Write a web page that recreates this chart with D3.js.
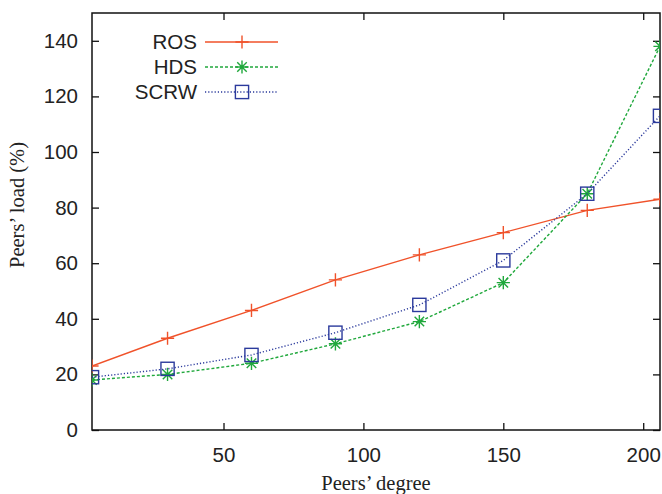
<!DOCTYPE html>
<html>
<head>
<meta charset="utf-8">
<script src="https://cdn.jsdelivr.net/npm/d3@7"></script>
<style>
  html, body { margin: 0; padding: 0; background: #fff; }
  svg { display: block; }
</style>
</head>
<body>
<svg id="chart" width="662" height="494"></svg>
<script>
// Peer degree values sampled on the x axis
const degrees = [3, 30, 60, 90, 120, 150, 180, 206];
// Load (%) for each scheme
const rosLoad  = [23, 33, 43, 54, 63, 71, 79, 83];
const hdsLoad  = [18, 20, 24, 31, 39, 53, 85, 138];
const scrwLoad = [19, 22, 27, 35, 45, 61, 85, 113];
const xTicks = [50, 100, 150, 200];
const yTicks = [0, 20, 40, 60, 80, 100, 120, 140];

const series = [
  { name: "ROS",  values: rosLoad,  color: "#f0522a", dash: null,  marker: "plus" },
  { name: "HDS",  values: hdsLoad,  color: "#20a83c", dash: "3,2", marker: "star" },
  { name: "SCRW", values: scrwLoad, color: "#2b3a9c", dash: "1.2,2", marker: "square" }
];

const svg = d3.select("#chart");
const plotL = 92, plotR = 660, plotT = 13, plotB = 430;

const x = d3.scaleLinear().domain([3, 206]).range([plotL, plotR]);
const y = d3.scaleLinear().domain([0, 150]).range([plotB, plotT]);

const tickFont = "'Liberation Sans', Arial, sans-serif";
const titleFont = "'Liberation Serif', 'Times New Roman', serif";

// Axes with ticks mirrored on the opposite sides
const gx = svg.append("g").attr("transform", `translate(0,${plotB})`)
  .call(d3.axisBottom(x).tickValues(xTicks).tickSize(-7).tickPadding(17));
const gxTop = svg.append("g").attr("transform", `translate(0,${plotT})`)
  .call(d3.axisTop(x).tickValues(xTicks).tickSize(-7).tickFormat(""));
const gy = svg.append("g").attr("transform", `translate(${plotL},0)`)
  .call(d3.axisLeft(y).tickValues(yTicks).tickSize(-7).tickPadding(14));
const gyRight = svg.append("g").attr("transform", `translate(${plotR},0)`)
  .call(d3.axisRight(y).tickValues(yTicks).tickSize(-7).tickFormat(""));

[gx, gxTop, gy, gyRight].forEach(g => {
  g.select(".domain").remove();
  g.selectAll(".tick line").attr("stroke", "#111").attr("stroke-width", 1.3);
  g.selectAll(".tick text").attr("font-family", tickFont).attr("font-size", 20.5).attr("fill", "#222");
});

// Frame
svg.append("rect")
  .attr("x", plotL).attr("y", plotT)
  .attr("width", plotR - plotL).attr("height", plotB - plotT)
  .attr("fill", "none").attr("stroke", "#111").attr("stroke-width", 1.5);

// Axis titles
svg.append("text")
  .attr("x", 376).attr("y", 490)
  .attr("text-anchor", "middle")
  .attr("font-family", titleFont).attr("font-size", 20.5).attr("fill", "#222")
  .text("Peers’ degree");
svg.append("text")
  .attr("transform", "translate(24,205) rotate(-90)")
  .attr("text-anchor", "middle")
  .attr("font-family", titleFont).attr("font-size", 20.5).attr("fill", "#222")
  .text("Peers’ load (%)");

function drawMarker(g, type, cx, cy, color) {
  const s = 6.6;
  if (type === "plus") {
    g.append("path").attr("d", `M${cx - s},${cy}H${cx + s}M${cx},${cy - s}V${cy + s}`)
      .attr("stroke", color).attr("stroke-width", 1.4).attr("fill", "none");
  } else if (type === "star") {
    const d = s * 0.72;
    g.append("path")
      .attr("d", `M${cx - s},${cy}H${cx + s}M${cx},${cy - s}V${cy + s}` +
                 `M${cx - d},${cy - d}L${cx + d},${cy + d}M${cx - d},${cy + d}L${cx + d},${cy - d}`)
      .attr("stroke", color).attr("stroke-width", 1.4).attr("fill", "none");
  } else {
    g.append("rect").attr("x", cx - s).attr("y", cy - s)
      .attr("width", 2 * s).attr("height", 2 * s)
      .attr("stroke", color).attr("stroke-width", 1.4).attr("fill", "none");
  }
}

svg.append("clipPath").attr("id", "plotclip")
  .append("rect").attr("x", plotL).attr("y", plotT)
  .attr("width", plotR - plotL).attr("height", plotB - plotT);

const line = d3.line().x((d, i) => x(degrees[i])).y(d => y(d));
const plot = svg.append("g").attr("clip-path", "url(#plotclip)");

series.forEach(s => {
  plot.append("path")
    .datum(s.values)
    .attr("d", line)
    .attr("fill", "none")
    .attr("stroke", s.color)
    .attr("stroke-width", 1.4)
    .attr("stroke-dasharray", s.dash);
  const mg = plot.append("g");
  s.values.forEach((v, i) => drawMarker(mg, s.marker, x(degrees[i]), y(v), s.color));
});

// Legend
const legend = svg.append("g");
series.forEach((s, i) => {
  const ly = 42 + i * 25;
  legend.append("text")
    .attr("x", 197).attr("y", ly).attr("dy", "0.35em")
    .attr("text-anchor", "end")
    .attr("font-family", tickFont).attr("font-size", 20.5).attr("fill", "#222")
    .text(s.name);
  legend.append("line")
    .attr("x1", 205).attr("x2", 278).attr("y1", ly).attr("y2", ly)
    .attr("stroke", s.color).attr("stroke-width", 1.4)
    .attr("stroke-dasharray", s.dash);
  drawMarker(legend, s.marker, 242, ly, s.color);
});
</script>
</body>
</html>
